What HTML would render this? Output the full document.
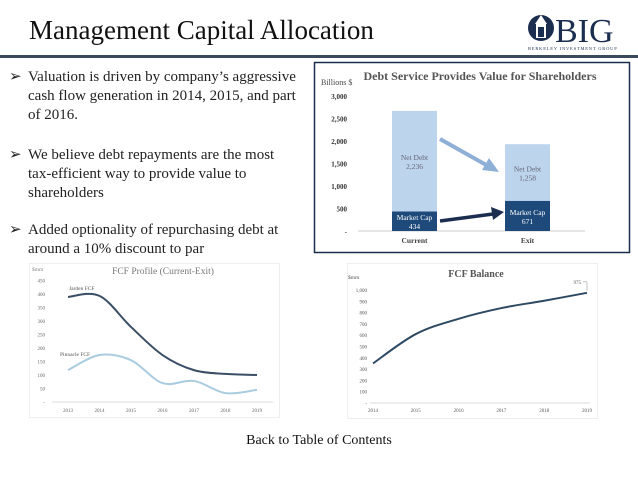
<!DOCTYPE html>
<html><head><meta charset="utf-8"><style>
html,body{margin:0;padding:0;background:#fff;}
svg{display:block;font-family:"Liberation Serif",serif;}
</style></head><body>
<svg id="page" width="638" height="479" viewBox="0 0 638 479">
<text x="29" y="39" font-size="27" fill="#111">Management Capital Allocation</text>
<rect x="0" y="55" width="638" height="3" fill="#3b4a5c"/>
<g>
<circle cx="541" cy="28" r="13" fill="#1c2e4f"/>
<rect x="536" y="24" width="10" height="14" fill="#fff"/>
<rect x="538" y="27" width="6" height="10" fill="#1c2e4f"/>
<path d="M535 24 L541 15 L547 24 Z" fill="#fff"/>
<text x="555" y="42" font-size="34" fill="#1c2e4f">BIG</text>
<text x="528" y="50" font-size="4.5" fill="#1c2e4f" letter-spacing="0.8">BERKELEY INVESTMENT GROUP</text>
</g>
<g font-size="15" fill="#222">
<text x="9" y="81">➢</text>
<text x="28" y="81">Valuation is driven by company’s aggressive</text>
<text x="28" y="100">cash flow generation in 2014, 2015, and part</text>
<text x="28" y="119">of 2016.</text>
<text x="9" y="159">➢</text>
<text x="28" y="159">We believe debt repayments are the most</text>
<text x="28" y="178">tax-efficient way to provide value to</text>
<text x="28" y="197">shareholders</text>
<text x="9" y="234">➢</text>
<text x="28" y="234">Added optionality of repurchasing debt at</text>
<text x="28" y="253">around a 10% discount to par</text>
</g>
<text x="319" y="444" font-size="14" text-anchor="middle" fill="#111">Back to Table of Contents</text>
<g id="c1"></g>
<g id="c2"></g>
<g id="c3"></g>
</svg>
<script>
const debtCats=["Current","Exit"];
const marketCap=[434,671];
const netDebt=[2236,1258];
const debtTicks=[0,500,1000,1500,2000,2500,3000];

const fcfYears=["2013","2014","2015","2016","2017","2018","2019"];
const fcfA=[389,393,278,174,118,104,100];
const fcfB=[118,174,155,70,78,33,45];
const fcfTicks=[0,50,100,150,200,250,300,350,400,450];

const balYears=["2014","2015","2016","2017","2018","2019"];
const balValues=[350,610,745,840,905,975];
const balTicks=[0,100,200,300,400,500,600,700,800,900,1000];

const NS="http://www.w3.org/2000/svg";
function mk(p,tag,attrs,txt){const e=document.createElementNS(NS,tag);for(const k in attrs)e.setAttribute(k,attrs[k]);if(txt!==undefined)e.textContent=txt;p.appendChild(e);return e;}
function fmt(v){return v===0?"-":v.toLocaleString("en-US");}
function smooth(pts){let d="M"+pts[0][0]+" "+pts[0][1];for(let i=0;i<pts.length-1;i++){const p0=pts[i-1]||pts[i],p1=pts[i],p2=pts[i+1],p3=pts[i+2]||p2;const t=0.17;d+=" C"+(p1[0]+(p2[0]-p0[0])*t)+" "+(p1[1]+(p2[1]-p0[1])*t)+" "+(p2[0]-(p3[0]-p1[0])*t)+" "+(p2[1]-(p3[1]-p1[1])*t)+" "+p2[0]+" "+p2[1];}return d;}

// Chart 1
(function(){
const g=document.getElementById("c1");
let e=mk(g,"rect",{x:314.5,y:62.5,width:315,height:190,fill:"#fff",stroke:"#1c2e4f","stroke-width":1.5});

e=mk(g,"text",{x:480,y:80,"font-size":12,"font-weight":"bold","text-anchor":"middle",fill:"#555"},"Debt Service Provides Value for Shareholders");

e=mk(g,"text",{x:321,y:85,"font-size":8,fill:"#444"},"Billions $");

const y=v=>231-v*0.045;const xc=[414.5,527.5];
debtTicks.forEach(t=>{const l=mk(g,"text",{x:347,y:y(t)+3,"font-size":7,"text-anchor":"end",fill:"#333","font-weight":"bold"},fmt(t));
});
e=mk(g,"line",{x1:358,x2:585,y1:231,y2:231,stroke:"#ccc"});

debtCats.forEach((c,i)=>{
const b1=mk(g,"rect",{x:xc[i]-22.5,y:y(marketCap[i]),width:45,height:y(0)-y(marketCap[i]),fill:"#1d4a7a"});

const b2=mk(g,"rect",{x:xc[i]-22.5,y:y(marketCap[i]+netDebt[i]),width:45,height:y(marketCap[i])-y(marketCap[i]+netDebt[i]),fill:"#bcd4ec"});

const mm=(y(0)+y(marketCap[i]))/2;
mk(g,"text",{x:xc[i],y:mm-1,"font-size":7.5,"text-anchor":"middle",fill:"#fff"},"Market Cap");
mk(g,"text",{x:xc[i],y:mm+8,"font-size":7.5,"text-anchor":"middle",fill:"#fff"},String(marketCap[i]));
const nm=(y(marketCap[i])+y(marketCap[i]+netDebt[i]))/2;
mk(g,"text",{x:xc[i],y:nm-1,"font-size":7.5,"text-anchor":"middle",fill:"#667"},"Net Debt");
mk(g,"text",{x:xc[i],y:nm+8,"font-size":7.5,"text-anchor":"middle",fill:"#667"},netDebt[i].toLocaleString("en-US"));
const cl=mk(g,"text",{x:xc[i],y:243,"font-size":7.5,"font-weight":"bold","text-anchor":"middle",fill:"#444"},c);

});
e=mk(g,"line",{x1:440,y1:139,x2:488,y2:166,stroke:"#8fb0d6","stroke-width":4});

mk(g,"path",{d:"M499 172 L482 170 L489 158 Z",fill:"#8fb0d6"});
e=mk(g,"line",{x1:440,y1:221,x2:493,y2:214,stroke:"#1c2e4f","stroke-width":3.5});

mk(g,"path",{d:"M504 212 L491 207 L493 220 Z",fill:"#1c2e4f"});
})();

// Chart 2
(function(){
const g=document.getElementById("c2");
let e=mk(g,"rect",{x:29.5,y:263.5,width:250,height:154,fill:"#fff",stroke:"#eee"});

e=mk(g,"text",{x:163,y:274,"font-size":9.5,"text-anchor":"middle",fill:"#777"},"FCF Profile (Current-Exit)");

mk(g,"text",{x:32,y:271,"font-size":5.5,fill:"#888"},"$mm");
const y=v=>402-v*0.27;const x=i=>68+i*31.5;
fcfTicks.forEach(t=>{const l=mk(g,"text",{x:45,y:y(t)+2,"font-size":5,"text-anchor":"end",fill:"#666"},t===0?"-":String(t));
});
e=mk(g,"line",{x1:52,x2:273,y1:402,y2:402,stroke:"#ddd"});

fcfYears.forEach((yr,i)=>{const l=mk(g,"text",{x:x(i),y:412,"font-size":5,"text-anchor":"middle",fill:"#666"},yr);
});
e=mk(g,"path",{d:smooth(fcfB.map((v,i)=>[x(i),y(v)])),fill:"none",stroke:"#a9cce0","stroke-width":2});

e=mk(g,"path",{d:smooth(fcfA.map((v,i)=>[x(i),y(v)])),fill:"none",stroke:"#3a4f66","stroke-width":2});

e=mk(g,"text",{x:69,y:290,"font-size":5.5,fill:"#555"},"Jarden FCF");

e=mk(g,"text",{x:60,y:356,"font-size":5.5,fill:"#555"},"Pinnacle FCF");

})();

// Chart 3
(function(){
const g=document.getElementById("c3");
let e=mk(g,"rect",{x:347.5,y:263.5,width:250,height:155,fill:"#fff",stroke:"#eee"});

e=mk(g,"text",{x:476,y:277,"font-size":10,"font-weight":"bold","text-anchor":"middle",fill:"#555"},"FCF Balance");

mk(g,"text",{x:348,y:279,"font-size":5.5,fill:"#555"},"$mm");
const y=v=>403-v*0.113;const x=i=>373+i*42.8;
balTicks.forEach(t=>{const l=mk(g,"text",{x:367,y:y(t)+2,"font-size":5,"text-anchor":"end",fill:"#555"},fmt(t));
});
e=mk(g,"line",{x1:370,x2:590,y1:403,y2:403,stroke:"#ddd"});

balYears.forEach((yr,i)=>{const l=mk(g,"text",{x:x(i),y:412,"font-size":5,"text-anchor":"middle",fill:"#555"},yr);
});
e=mk(g,"path",{d:smooth(balValues.map((v,i)=>[x(i),y(v)])),fill:"none",stroke:"#2e4a63","stroke-width":2});

const li=balValues.length-1;
e=mk(g,"text",{x:x(li)-6,y:y(balValues[li])-9,"font-size":5,"text-anchor":"end",fill:"#555"},String(balValues[li]));

mk(g,"path",{d:"M"+(x(li)-4)+" "+(y(balValues[li])-11)+" h4 v9",fill:"none",stroke:"#888","stroke-width":0.5});
})();
</script>
</body></html>
